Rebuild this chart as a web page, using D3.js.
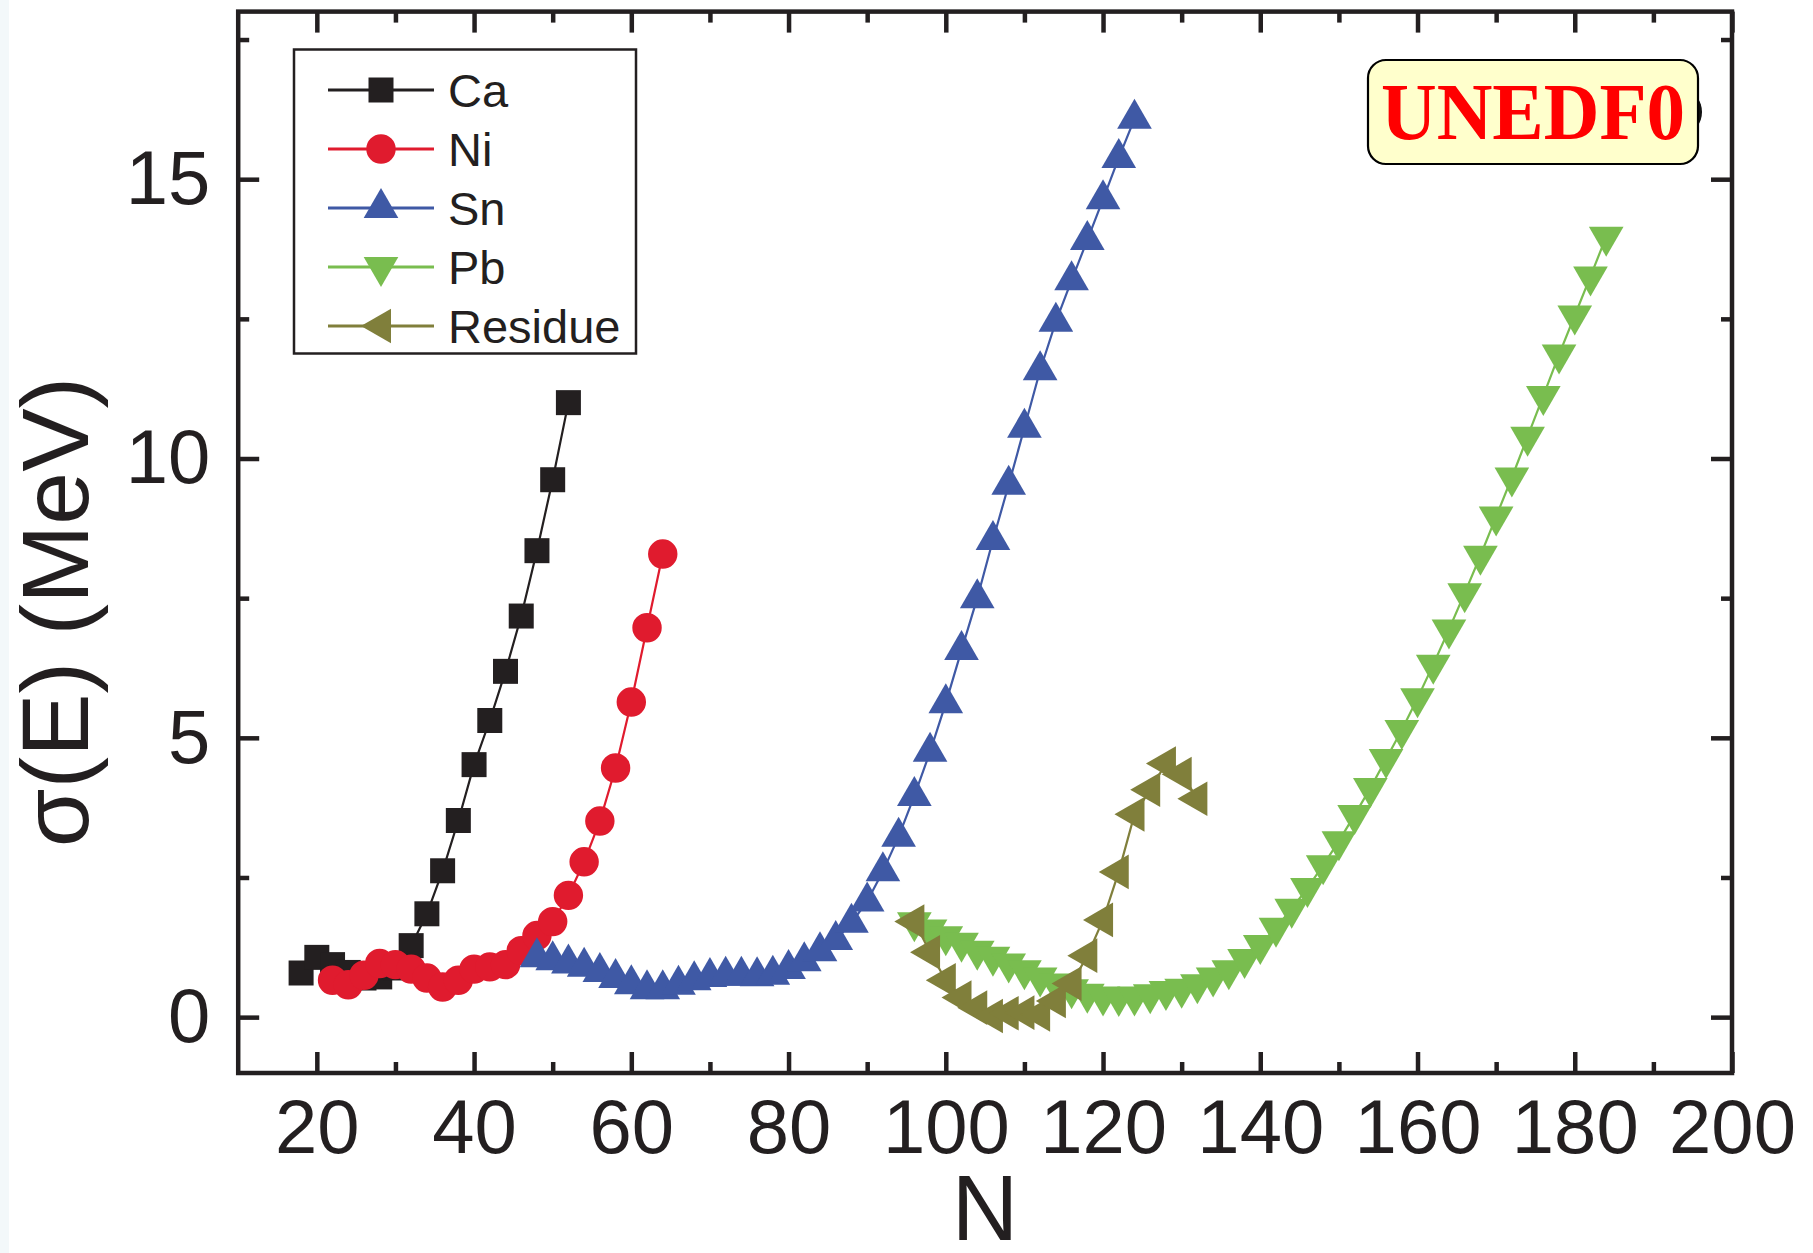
<!DOCTYPE html>
<html><head><meta charset="utf-8">
<script src="https://cdn.jsdelivr.net/npm/d3@7/dist/d3.min.js"></script>
<style>body{margin:0;background:#fff}svg{display:block}</style>
</head><body>
<script>
// ---- data ----
const caN = [18,20,22,24,26,28,30,32,34,36,38,40,42,44,46,48,50,52];
const caV = [0.79,1.07,0.94,0.80,0.70,0.72,0.88,1.28,1.85,2.62,3.52,4.52,5.31,6.19,7.18,8.35,9.62,11.0];

const niN = [22,24,26,28,30,32,34,36,38,40,42,44,46,48,50,52,54,56,58,60,62,64];
const niV = [0.66,0.58,0.75,0.96,0.94,0.86,0.70,0.54,0.66,0.86,0.90,0.94,1.19,1.46,1.71,2.18,2.78,3.51,4.46,5.64,6.97,8.29];

const snN = [48,50,52,54,56,58,60,62,64,66,68,70,72,74,76,78,80,82,84,86,88,90,92,94,96,98,100,102,104,106,108,110,112,114,116,118,120,122,124];
const snV = [1.07,1.02,0.96,0.90,0.81,0.70,0.59,0.50,0.50,0.58,0.66,0.72,0.74,0.74,0.73,0.76,0.86,1.00,1.18,1.38,1.69,2.07,2.61,3.23,3.96,4.75,5.62,6.57,7.50,8.54,9.53,10.55,11.58,12.45,13.19,13.91,14.64,15.38,16.08];

const pbN = [96,98,100,102,104,106,108,110,112,114,116,118,120,122,124,126,128,130,132,134,136,138,140,142,144,146,148,150,152,154,156,158,160,162,164,166,168,170,172,174,176,178,180,182,184];
const pbV = [1.70,1.57,1.45,1.33,1.19,1.08,0.96,0.84,0.71,0.60,0.50,0.42,0.37,0.36,0.37,0.41,0.47,0.51,0.59,0.71,0.84,1.04,1.29,1.60,1.94,2.31,2.72,3.15,3.62,4.10,4.62,5.14,5.71,6.31,6.94,7.59,8.26,8.96,9.66,10.39,11.12,11.86,12.56,13.26,13.97];

const resN = [96,98,100,102,104,106,108,110,112,114,116,118,120,122,124,126,128,130,132];
const resV = [1.71,1.16,0.66,0.35,0.17,0.02,0.07,0.08,0.05,0.29,0.60,1.10,1.74,2.60,3.63,4.07,4.54,4.35,3.91];

const seriesNames = ["Ca","Ni","Sn","Pb","Residue"];
const xTicks = [20,40,60,80,100,120,140,160,180,200];
const xMinor = [30,50,70,90,110,130,150,170,190];
const yTicks = [0,5,10,15];
const yMinor = [2.5,7.5,12.5,17.5];
const xTitle = "N";
const yTitle = "σ(E) (MeV)";
const tag = "UNEDF0";

// ---- drawing ----
const W = 1813, H = 1253;
const L = 238.2, R = 1732, T = 11.6, B = 1073;
const ink = "#231f20";
const font = "'Liberation Sans', Arial, Helvetica, sans-serif";

const svg = d3.select("body").append("svg").attr("width", W).attr("height", H);
svg.append("rect").attr("width", W).attr("height", H).attr("fill", "#fff");
svg.append("rect").attr("x", 0).attr("y", 0).attr("width", 9).attr("height", H).attr("fill", "#f3f8fa");

const x = d3.scaleLinear().domain([10, 200]).range([L, R]);
const y = d3.scaleLinear().domain([-1, 18]).range([B, T]);

function styleAxis(g) {
  g.select(".domain").remove();
  g.selectAll(".tick line").attr("stroke", ink).attr("stroke-width", 4.5);
  g.selectAll(".tick text").attr("fill", ink).attr("font-family", font).attr("font-size", 76);
}
const noLab = () => "";

// bottom
svg.append("g").attr("transform", `translate(0,${B})`)
  .call(d3.axisBottom(x).tickValues(xTicks).tickSize(-21).tickPadding(26).tickFormat(d3.format("d")))
  .call(styleAxis);
svg.append("g").attr("transform", `translate(0,${B})`)
  .call(d3.axisBottom(x).tickValues(xMinor).tickSize(-11).tickFormat(noLab)).call(styleAxis);
// top
svg.append("g").attr("transform", `translate(0,${T})`)
  .call(d3.axisTop(x).tickValues(xTicks).tickSize(-21).tickFormat(noLab)).call(styleAxis);
svg.append("g").attr("transform", `translate(0,${T})`)
  .call(d3.axisTop(x).tickValues(xMinor).tickSize(-11).tickFormat(noLab)).call(styleAxis);
// left
svg.append("g").attr("transform", `translate(${L},0)`)
  .call(d3.axisLeft(y).tickValues(yTicks).tickSize(-21).tickPadding(28).tickFormat(d3.format("d")))
  .call(styleAxis);
svg.append("g").attr("transform", `translate(${L},0)`)
  .call(d3.axisLeft(y).tickValues(yMinor).tickSize(-11).tickFormat(noLab)).call(styleAxis);
// right
svg.append("g").attr("transform", `translate(${R},0)`)
  .call(d3.axisRight(y).tickValues(yTicks).tickSize(-21).tickFormat(noLab)).call(styleAxis);
svg.append("g").attr("transform", `translate(${R},0)`)
  .call(d3.axisRight(y).tickValues(yMinor).tickSize(-11).tickFormat(noLab)).call(styleAxis);

// frame
svg.append("rect").attr("x", L).attr("y", T).attr("width", R - L).attr("height", B - T)
  .attr("fill", "none").attr("stroke", ink).attr("stroke-width", 4.5);

// axis titles
svg.append("text").attr("x", (L + R) / 2).attr("y", 1240).attr("text-anchor", "middle")
  .attr("font-family", font).attr("font-size", 92).attr("fill", ink).text(xTitle);
svg.append("text").attr("transform", "translate(88,612) rotate(-90)").attr("text-anchor", "middle")
  .attr("font-family", font).attr("font-size", 95).attr("fill", ink).text(yTitle);

// series
const series = [
  {name: seriesNames[0], N: caN, V: caV, color: "#231f20", sym: d3.symbolSquare, size: 625, rot: 0},
  {name: seriesNames[1], N: niN, V: niV, color: "#e01b2e", sym: d3.symbolCircle, size: 680, rot: 0},
  {name: seriesNames[2], N: snN, V: snV, color: "#3f59a5", sym: d3.symbolTriangle, size: 520, rot: 0},
  {name: seriesNames[3], N: pbN, V: pbV, color: "#79bd4f", sym: d3.symbolTriangle, size: 520, rot: 180},
  {name: seriesNames[4], N: resN, V: resV, color: "#807f3b", sym: d3.symbolTriangle, size: 520, rot: -90}
];

const plot = svg.append("g");
const line = d3.line().x(d => x(d[0])).y(d => y(d[1]));
series.forEach(s => {
  const pts = s.N.map((n, i) => [n, s.V[i]]);
  const g = plot.append("g");
  g.append("path").attr("d", line(pts)).attr("fill", "none").attr("stroke", s.color).attr("stroke-width", 2.2);
  g.selectAll("path.m").data(pts).enter().append("path").attr("class", "m")
    .attr("d", d3.symbol().type(s.sym).size(s.size))
    .attr("transform", d => `translate(${x(d[0])},${y(d[1])}) rotate(${s.rot})`)
    .attr("fill", s.color);
});

// legend
const lg = svg.append("g");
lg.append("rect").attr("x", 294).attr("y", 49.5).attr("width", 342).attr("height", 304)
  .attr("fill", "#fff").attr("stroke", ink).attr("stroke-width", 2.5);
const rowY = [90, 149, 208, 267, 326];
series.forEach((s, i) => {
  const yy = rowY[i];
  lg.append("line").attr("x1", 328).attr("x2", 434).attr("y1", yy).attr("y2", yy)
    .attr("stroke", s.color).attr("stroke-width", 3);
  lg.append("path").attr("d", d3.symbol().type(s.sym).size(s.size))
    .attr("transform", `translate(381,${yy}) rotate(${s.rot})`).attr("fill", s.color);
  lg.append("text").attr("x", 448).attr("y", yy + 17).attr("font-family", font).attr("font-size", 47)
    .attr("fill", ink).text(s.name);
});

// UNEDF0 tag
const tg = svg.append("g");
tg.append("ellipse").attr("cx", 1686).attr("cy", 112).attr("rx", 16).attr("ry", 20).attr("fill", "#111");
tg.append("rect").attr("x", 1368).attr("y", 60).attr("width", 330).attr("height", 104).attr("rx", 18)
  .attr("fill", "#ffffcc").attr("stroke", "#000").attr("stroke-width", 2.2);
tg.append("text").attr("x", 1533).attr("y", 139).attr("text-anchor", "middle")
  .attr("font-family", "'Liberation Serif', 'Times New Roman', serif").attr("font-weight", "bold")
  .attr("font-size", 80).attr("fill", "#ff0000")
  .attr("textLength", 304).attr("lengthAdjust", "spacingAndGlyphs").text(tag);
</script>
</body></html>
